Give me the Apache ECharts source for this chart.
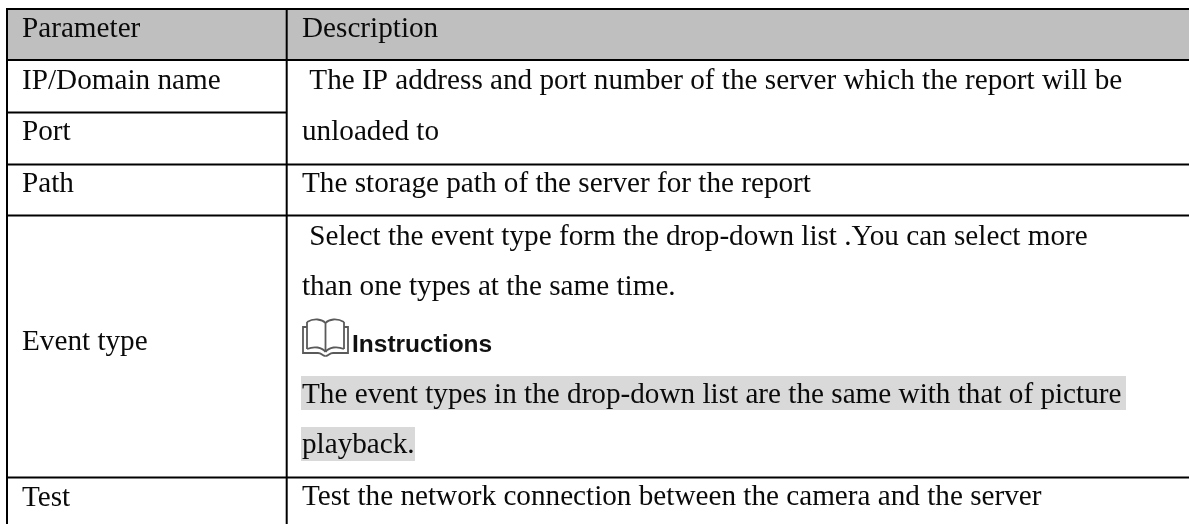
<!DOCTYPE html>
<html><head><meta charset="utf-8">
<style>html,body{margin:0;padding:0;background:#fff}#c{width:1189px;height:524px}</style>
<script src="https://cdn.jsdelivr.net/npm/echarts@6/dist/echarts.min.js"></script>
</head><body><div id="c"></div>
<script>
const headers = ['Parameter', 'Description'];
const parameters = ['IP/Domain name', 'Port', 'Path', 'Event type', 'Test'];
const descriptionLines = [
  ' The IP address and port number of the server which the report will be',
  'unloaded to',
  'The storage path of the server for the report',
  ' Select the event type form the drop-down list .You can select more',
  'than one types at the same time.',
  'The event types in the drop-down list are the same with that of picture',
  'playback.',
  'Test the network connection between the camera and the server'
];
const noteTitle = 'Instructions';

const W = 1189, LX = 7, MX = 286.7, FONT = '"Liberation Serif","Times New Roman",serif', FS = 29.2, BASE = 8;
const el = [];
const rect = (x, y, w, h, fill) => el.push({type:'rect', silent:true, shape:{x, y, width:w, height:h}, style:{fill}});
const line = (x1, y1, x2, y2) => el.push({type:'line', silent:true, shape:{x1, y1, x2, y2}, style:{stroke:'#000', lineWidth:2}});
const text = (x, y, t, o) => el.push({type:'text', silent:true, x, y:y-BASE, style:Object.assign({text:t, fill:'#0a0a0a', font:FS+'px '+FONT, align:'left', verticalAlign:'middle'}, o||{})});
const stroke = (type, shape, color, width) => el.push({type, silent:true, shape, style:{fill:'none', stroke:color, lineWidth:width}});

rect(LX, 9, W-LX, 51, '#bfbfbf');
rect(301, 376, 825, 34, '#d9d9d9');
rect(301, 427, 114, 34, '#d9d9d9');

[9, 60, 164.5, 215.5, 477.5].forEach(y => line(LX - 1, y, W, y));
line(LX, 112.5, MX, 112.5);
line(LX, 8, LX, 524);
line(MX, 8, MX, 524);

text(22, 37, headers[0]); text(302, 37, headers[1]);
[89, 140, 192, 350, 506].forEach((y, i) => text(22, y, parameters[i]));
[89, 140, 192, 245, 295, 403, 453, 505].forEach((y, i) => text(302, y, descriptionLines[i]));
text(352, 353, noteTitle, {font:'bold 24.5px "Liberation Sans",Arial,sans-serif', fill:'#111'});

// open-book icon
const ic = '#5a5a5a', lw = 1.8;
stroke('polyline', {points:[[307,327],[303,327],[303,353],[318,353]]}, ic, lw);
stroke('polyline', {points:[[344,327],[348,327],[348,353],[333,353]]}, ic, lw);
stroke('bezierCurve', {x1:307,y1:322,cpx1:314,cpy1:318,cpx2:322,cpy2:319,x2:325.5,y2:323}, ic, lw);
stroke('bezierCurve', {x1:325.5,y1:323,cpx1:329,cpy1:319,cpx2:337,cpy2:318,x2:344,y2:322}, ic, lw);
stroke('line', {x1:307,y1:322,x2:307,y2:349}, ic, lw);
stroke('line', {x1:344,y1:322,x2:344,y2:349}, ic, lw);
stroke('line', {x1:325.5,y1:323,x2:325.5,y2:352}, ic, lw);
stroke('bezierCurve', {x1:307,y1:349,cpx1:314,cpy1:346,cpx2:322,cpy2:347,x2:325.5,y2:352}, ic, lw);
stroke('bezierCurve', {x1:325.5,y1:352,cpx1:329,cpy1:347,cpx2:337,cpy2:346,x2:344,y2:349}, ic, lw);
stroke('bezierCurve', {x1:318,y1:353,cpx1:322,cpy1:353,cpx2:322,cpy2:356,x2:325.5,y2:356}, ic, lw);
stroke('bezierCurve', {x1:325.5,y1:356,cpx1:329,cpy1:356,cpx2:329,cpy2:353,x2:333,y2:353}, ic, lw);

const chart = echarts.init(document.getElementById('c'), null, {renderer:'canvas'});
chart.setOption({animation:false, backgroundColor:'#fff', graphic:{elements:el}});
</script></body></html>
